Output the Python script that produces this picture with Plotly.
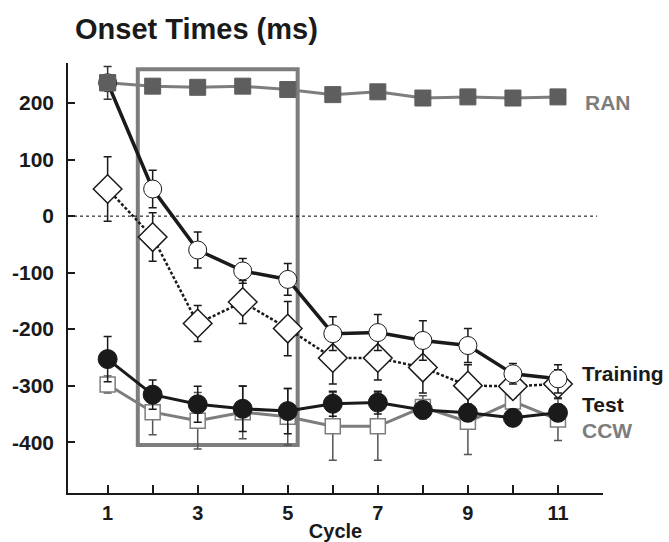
import plotly.graph_objects as go

cycles = [1, 2, 3, 4, 5, 6, 7, 8, 9, 10, 11]

ran = [236, 230, 228, 230, 224, 215, 220, 209, 211, 209, 211]
ran_err = [29, 0, 0, 0, 0, 0, 0, 0, 0, 0, 0]

training = [236, 48, -60, -97, -112, -208, -206, -220, -229, -279, -288]
training_err = [0, 33, 32, 22, 28, 30, 32, 35, 30, 18, 25]

diamond = [48, -37, -190, -152, -199, -251, -251, -268, -300, -301, -297]
diamond_err = [57, 43, 32, 38, 48, 46, 39, 45, 37, 20, 25]

test = [-253, -316, -333, -341, -345, -332, -330, -343, -348, -357, -348]
test_err = [40, 26, 32, 40, 40, 22, 20, 15, 15, 12, 15]

ccw = [-298, -347, -362, -347, -355, -372, -372, -338, -364, -328, -360]
ccw_err = [15, 40, 50, 47, 50, 60, 60, 20, 58, 15, 37]

x_tickvals = [1, 2, 3, 4, 5, 6, 7, 8, 9, 10, 11]
x_ticktext = ["1", "", "3", "", "5", "", "7", "", "9", "", "11"]
y_tickvals = [200, 100, 0, -100, -200, -300, -400]
y_ticktext = ["200", "100", "0", "-100", "-200", "-300", "-400"]

FONT = "Liberation Sans, Arial, Helvetica, sans-serif"
INK = "#1a1a1a"
GRAY_DARK = "#5e5e5e"
GRAY = "#7d7d7d"

fig = go.Figure()

fig.add_trace(go.Scatter(
    x=cycles, y=ran, name="RAN", mode="lines+markers",
    line=dict(color=GRAY, width=3),
    marker=dict(symbol="square", size=16, color=GRAY_DARK, line=dict(color=GRAY_DARK, width=1)),
    error_y=dict(type="data", array=ran_err, color="#333333", thickness=1.5, width=4),
))

fig.add_trace(go.Scatter(
    x=cycles, y=ccw, name="CCW", mode="lines+markers",
    line=dict(color=GRAY, width=3),
    marker=dict(symbol="square", size=15, color="white", line=dict(color=GRAY, width=1.5)),
    error_y=dict(type="data", array=ccw_err, color="#555555", thickness=1.5, width=4),
))

fig.add_trace(go.Scatter(
    x=cycles, y=test, name="Test", mode="lines+markers",
    line=dict(color=INK, width=3),
    marker=dict(symbol="circle", size=19, color=INK, line=dict(color=INK, width=1)),
    error_y=dict(type="data", array=test_err, color=INK, thickness=1.5, width=4),
))

fig.add_trace(go.Scatter(
    x=cycles, y=diamond, name="Training (diamond)", mode="lines+markers",
    line=dict(color=INK, width=2.5, dash="3px,2px"),
    marker=dict(symbol="diamond", size=22, color="white", line=dict(color=INK, width=1.5)),
    error_y=dict(type="data", array=diamond_err, color=INK, thickness=1.5, width=4),
))

fig.add_trace(go.Scatter(
    x=cycles, y=training, name="Training", mode="lines+markers",
    line=dict(color=INK, width=3.5),
    marker=dict(symbol="circle", size=18, color="white", line=dict(color=INK, width=1)),
    error_y=dict(type="data", array=training_err, color=INK, thickness=1.5, width=4),
))

# RAN marker on top at cycle 1
fig.add_trace(go.Scatter(
    x=cycles[:1], y=ran[:1], mode="markers", showlegend=False, hoverinfo="skip",
    marker=dict(symbol="square", size=16, color=GRAY_DARK, line=dict(color=GRAY_DARK, width=1)),
))

# highlight box and zero line
fig.add_shape(type="rect", x0=1.67, x1=5.22, y0=-405, y1=260,
              line=dict(color=GRAY, width=4), layer="below")
fig.add_shape(type="line", x0=0.12, x1=11.87, y0=0, y1=0,
              line=dict(color="black", width=1, dash="dot"), layer="below")

labels = [("RAN", 201, GRAY, 1), ("Training", -278, INK, -2), ("Test", -334, INK, -2), ("CCW", -379, GRAY, -2)]
for txt, yv, col, dx in labels:
    fig.add_annotation(x=11.53, y=yv, text="<b>%s</b>" % txt, showarrow=False,
                       xanchor="left", yanchor="middle", xref="x", yref="y",
                       xshift=dx,
                       font=dict(family=FONT, size=21, color=col))

fig.update_layout(
    width=669, height=542,
    margin=dict(l=68, r=66, t=63, b=49),
    paper_bgcolor="white", plot_bgcolor="white",
    showlegend=False,
    font=dict(family=FONT, color=INK),
    title=dict(text="<b>Onset Times (ms)</b>", x=75 / 669, xanchor="left",
               y=1 - 29 / 542, yanchor="middle",
               font=dict(family=FONT, size=29, color=INK)),
)

fig.update_xaxes(
    range=[0.12, 12.0], tickvals=x_tickvals,
    ticktext=["<b>%s</b>" % t if t else "" for t in x_ticktext],
    ticks="inside", ticklen=8, tickwidth=1.5, tickcolor=INK,
    showline=True, linecolor=INK, linewidth=1.5, showgrid=False, zeroline=False,
    tickfont=dict(family=FONT, size=20, color=INK),
    title=dict(text="<b>Cycle</b>", standoff=2, font=dict(family=FONT, size=20, color=INK)),
    ticklabelstandoff=1, automargin=False,
)
fig.update_yaxes(
    range=[-490, 271], tickvals=y_tickvals,
    ticktext=["<b>%s</b>" % t for t in y_ticktext],
    ticks="inside", ticklen=7, tickwidth=1.5, tickcolor=INK,
    showline=True, linecolor=INK, linewidth=1.5, showgrid=False, zeroline=False,
    tickfont=dict(family=FONT, size=21, color=INK),
    ticklabelstandoff=8, automargin=False,
)

fig.write_html("out.html", config={"displayModeBar": False},
               post_script="document.body.style.margin='0';document.body.style.overflow='hidden';")
